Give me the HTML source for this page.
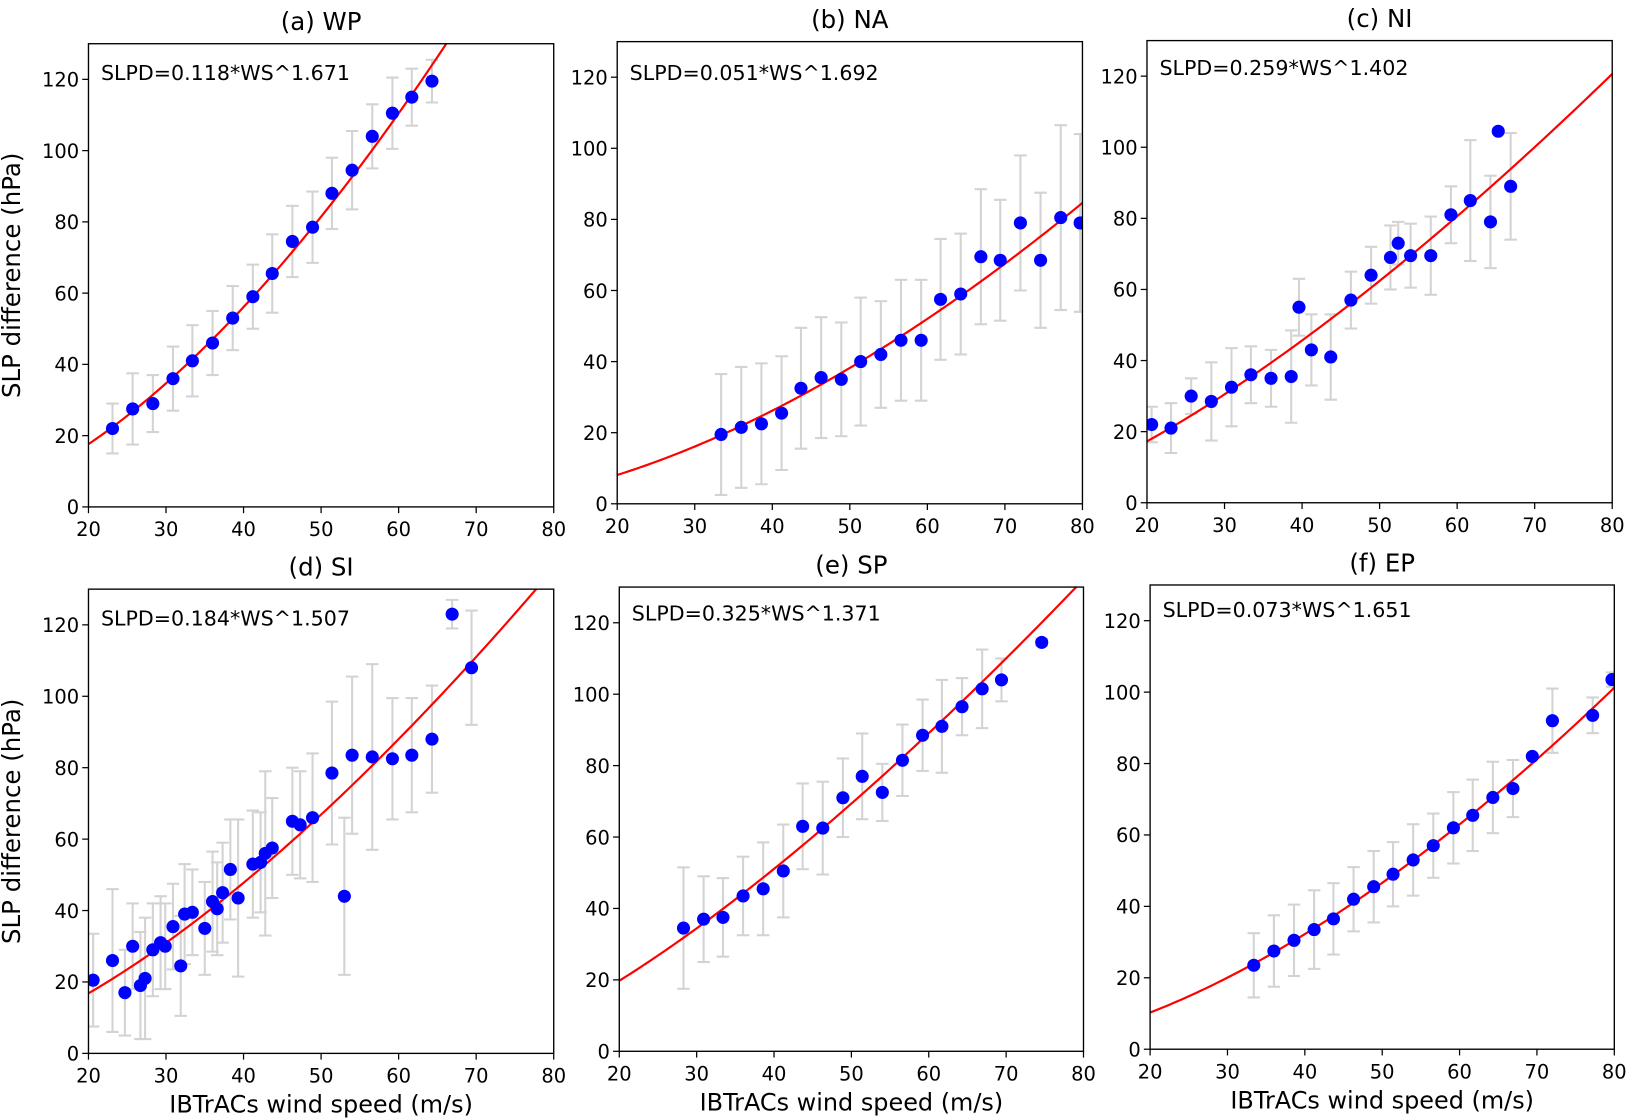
<!DOCTYPE html>
<html><head><meta charset="utf-8">
<style>
html,body{margin:0;padding:0;background:#fff;}
svg{display:block;font-family:"DejaVu Sans","Liberation Sans",sans-serif;}
</style></head>
<body>
<svg id="fig" width="1632" height="1120" viewBox="0 0 1568 1076" preserveAspectRatio="none" xmlns="http://www.w3.org/2000/svg"></svg>
<script>
// ---- data ----
const xTicks = [20,30,40,50,60,70,80];
const yTicks = [0,20,40,60,80,100,120];

const aX = [23.1,25.7,28.3,30.9,33.4,36,38.6,41.2,43.7,46.3,48.9,51.4,54,56.6,59.2,61.7,64.3];
const aY = [22,27.5,29,36,41,46,53,59,65.5,74.5,78.5,88,94.5,104,110.5,115,119.5];
const aE = [7,10,8,9,10,9,9,9,11,10,10,10,11,9,10,8,6];
const aFit = [0.118,1.671];

const bX = [33.4,36,38.6,41.2,43.7,46.3,48.9,51.4,54,56.6,59.2,61.7,64.3,66.9,69.4,72,74.6,77.2,79.7];
const bY = [19.5,21.5,22.5,25.5,32.5,35.5,35,40,42,46,46,57.5,59,69.5,68.5,79,68.5,80.5,79];
const bE = [17,17,17,16,17,17,16,18,15,17,17,17,17,19,17,19,19,26,25];
const bFit = [0.051,1.692];

const cX = [20.6,23.1,25.7,28.3,30.9,33.4,36,38.6,39.6,41.2,43.7,46.3,48.9,51.4,52.4,54,56.6,59.2,61.7,64.3,65.3,66.9];
const cY = [22,21,30,28.5,32.5,36,35,35.5,55,43,41,57,64,69,73,69.5,69.5,81,85,79,104.5,89];
const cE = [5,7,5,11,11,8,8,13,8,10,12,8,8,9,6,9,11,8,17,13,0,15];
const cFit = [0.259,1.402];

const dX = [20.6,23.1,24.7,25.7,26.7,27.3,28.3,29.3,29.9,30.9,31.9,32.4,33.4,35,36,36.6,37.3,38.3,39.3,41.2,42.2,42.8,43.7,46.3,47.3,48.9,51.4,53,54,56.6,59.2,61.7,64.3,66.9,69.4];
const dY = [20.5,26,17,30,19,21,29,31,30,35.5,24.5,39,39.5,35,42.5,40.5,45,51.5,43.5,53,53.5,56,57.5,65,64,66,78.5,44,83.5,83,82.5,83.5,88,123,108];
const dE = [13,20,12,12,15,17,13,13,12,12,14,14,12,13,14,13,14,14,22,15,14,23,14,15,15,18,20,22,22,26,17,16,15,4,16];
const dFit = [0.184,1.507];

const eX = [28.3,30.9,33.4,36,38.6,41.2,43.7,46.3,48.9,51.4,54,56.6,59.2,61.7,64.3,66.9,69.4,74.6];
const eY = [34.5,37,37.5,43.5,45.5,50.5,63,62.5,71,77,72.5,81.5,88.5,91,96.5,101.5,104,114.5];
const eE = [17,12,11,11,13,13,12,13,11,12,8,10,10,13,8,11,6,1];
const eFit = [0.325,1.371];

const fX = [33.4,36,38.6,41.2,43.7,46.3,48.9,51.4,54,56.6,59.2,61.7,64.3,66.9,69.4,72,77.2,79.7];
const fY = [23.5,27.5,30.5,33.5,36.5,42,45.5,49,53,57,62,65.5,70.5,73,82,92,93.5,103.5];
const fE = [9,10,10,11,10,9,10,9,10,9,10,10,10,8,0,9,5,2];
const fFit = [0.073,1.651];

const panels = [
  {id:'a', title:'(a) WP', X:aX, Y:aY, E:aE, fit:aFit, L:85, R:532, T:42, B:487, ylab:true, xlab:false, eqy:77},
  {id:'b', title:'(b) NA', X:bX, Y:bY, E:bE, fit:bFit, L:593, R:1040, T:40, B:484, ylab:false, xlab:false, eqy:77},
  {id:'c', title:'(c) NI', X:cX, Y:cY, E:cE, fit:cFit, L:1102, R:1549, T:39, B:483, ylab:false, xlab:false, eqy:72},
  {id:'d', title:'(d) SI', X:dX, Y:dY, E:dE, fit:dFit, L:85, R:532, T:566, B:1012, ylab:true, xlab:true, eqy:601},
  {id:'e', title:'(e) SP', X:eX, Y:eY, E:eE, fit:eFit, L:595, R:1041, T:564, B:1010, ylab:false, xlab:true, eqy:596},
  {id:'f', title:'(f) EP', X:fX, Y:fY, E:fE, fit:fFit, L:1105, R:1551, T:562, B:1008, ylab:false, xlab:true, eqy:593}
];

const NS='http://www.w3.org/2000/svg';
const fig=document.getElementById('fig');
function mk(tag, attrs, parent){
  const el=document.createElementNS(NS,tag);
  for(const k in attrs) el.setAttribute(k, attrs[k]);
  (parent||fig).appendChild(el);
  return el;
}

panels.forEach(p=>{
  const g=mk('g',{});
  
  
  const ymax=130;
  const sx=v=>p.L+(v-20)/60*(p.R-p.L);
  const y120=p.B-(p.B-p.T)*120/ymax;
  const sy=v=>p.B-(v)*(p.B-y120)/120;
  const cp=mk('clipPath',{id:'clip'+p.id},g);
  mk('rect',{x:p.L,y:p.T,width:p.R-p.L,height:p.B-p.T},cp);
  const plot=mk('g',{'clip-path':'url(#clip'+p.id+')'},g);
  p.X.forEach((x,i)=>{
    const e=p.E[i]; if(!e) return;
    const eb=mk('g',{stroke:'#d3d3d3','stroke-width':2,fill:'none'},plot);
    
    
    const cx=sx(x), y1=sy(p.Y[i]-e), y2=sy(p.Y[i]+e);
    mk('line',{x1:cx,x2:cx,y1:y1,y2:y2},eb);
    mk('line',{x1:cx-6,x2:cx+6,y1:y1,y2:y1},eb);
    mk('line',{x1:cx-6,x2:cx+6,y1:y2,y2:y2},eb);
  });
  let d='';
  for(let x=20;x<=80.01;x+=0.5){
    const yv=p.fit[0]*Math.pow(x,p.fit[1]);
    d+=(d?'L':'M')+sx(x).toFixed(2)+','+sy(yv).toFixed(2);
  }
  const fl=mk('path',{d:d,stroke:'#ff0000','stroke-width':2.1,fill:'none'},plot);
  
  
  p.X.forEach((x,i)=>{
    const c=mk('circle',{cx:sx(x),cy:sy(p.Y[i]),r:6.3,fill:'#0000ff'},plot);
    
    
  });
  const fr=mk('rect',{x:p.L,y:p.T,width:p.R-p.L,height:p.B-p.T,fill:'none',stroke:'#000','stroke-width':1.3},g);
  
  
  xTicks.forEach(t=>{
    const x=sx(t);
    mk('line',{x1:x,x2:x,y1:p.B,y2:p.B+6,stroke:'#000','stroke-width':1.2},g);
    const tx=mk('text',{x:x,y:p.B+28,'text-anchor':'middle','font-size':18.7},g);
    tx.textContent=t;
    
    
  });
  yTicks.forEach(t=>{
    const y=sy(t);
    mk('line',{x1:p.L-6,x2:p.L,y1:y,y2:y,stroke:'#000','stroke-width':1.2},g);
    const ty=mk('text',{x:p.L-9,y:y+7,'text-anchor':'end','font-size':18.7},g);
    ty.textContent=t;
    
    
  });
  const ti=mk('text',{x:(p.L+p.R)/2,y:p.T-13,'text-anchor':'middle','font-size':23.5},g);
  ti.textContent=p.title;
  
  
  const eq=mk('text',{x:p.L+12,y:p.eqy,'font-size':19.8},g);
  eq.textContent='SLPD='+p.fit[0].toFixed(3)+'*WS^'+p.fit[1].toFixed(3);
  
  
  if(p.ylab){
    const cy=(p.T+p.B)/2;
    const yl=mk('text',{x:19,y:cy,'text-anchor':'middle','font-size':23.5,transform:'rotate(-90 19 '+cy+')'},g);
    yl.textContent='SLP difference (hPa)';
    
    
  }
  if(p.xlab){
    const xl=mk('text',{x:(p.L+p.R)/2,y:p.B+57,'text-anchor':'middle','font-size':23},g);
    xl.textContent='IBTrACs wind speed (m/s)';
    
    
  }
});
</script>
</body></html>
